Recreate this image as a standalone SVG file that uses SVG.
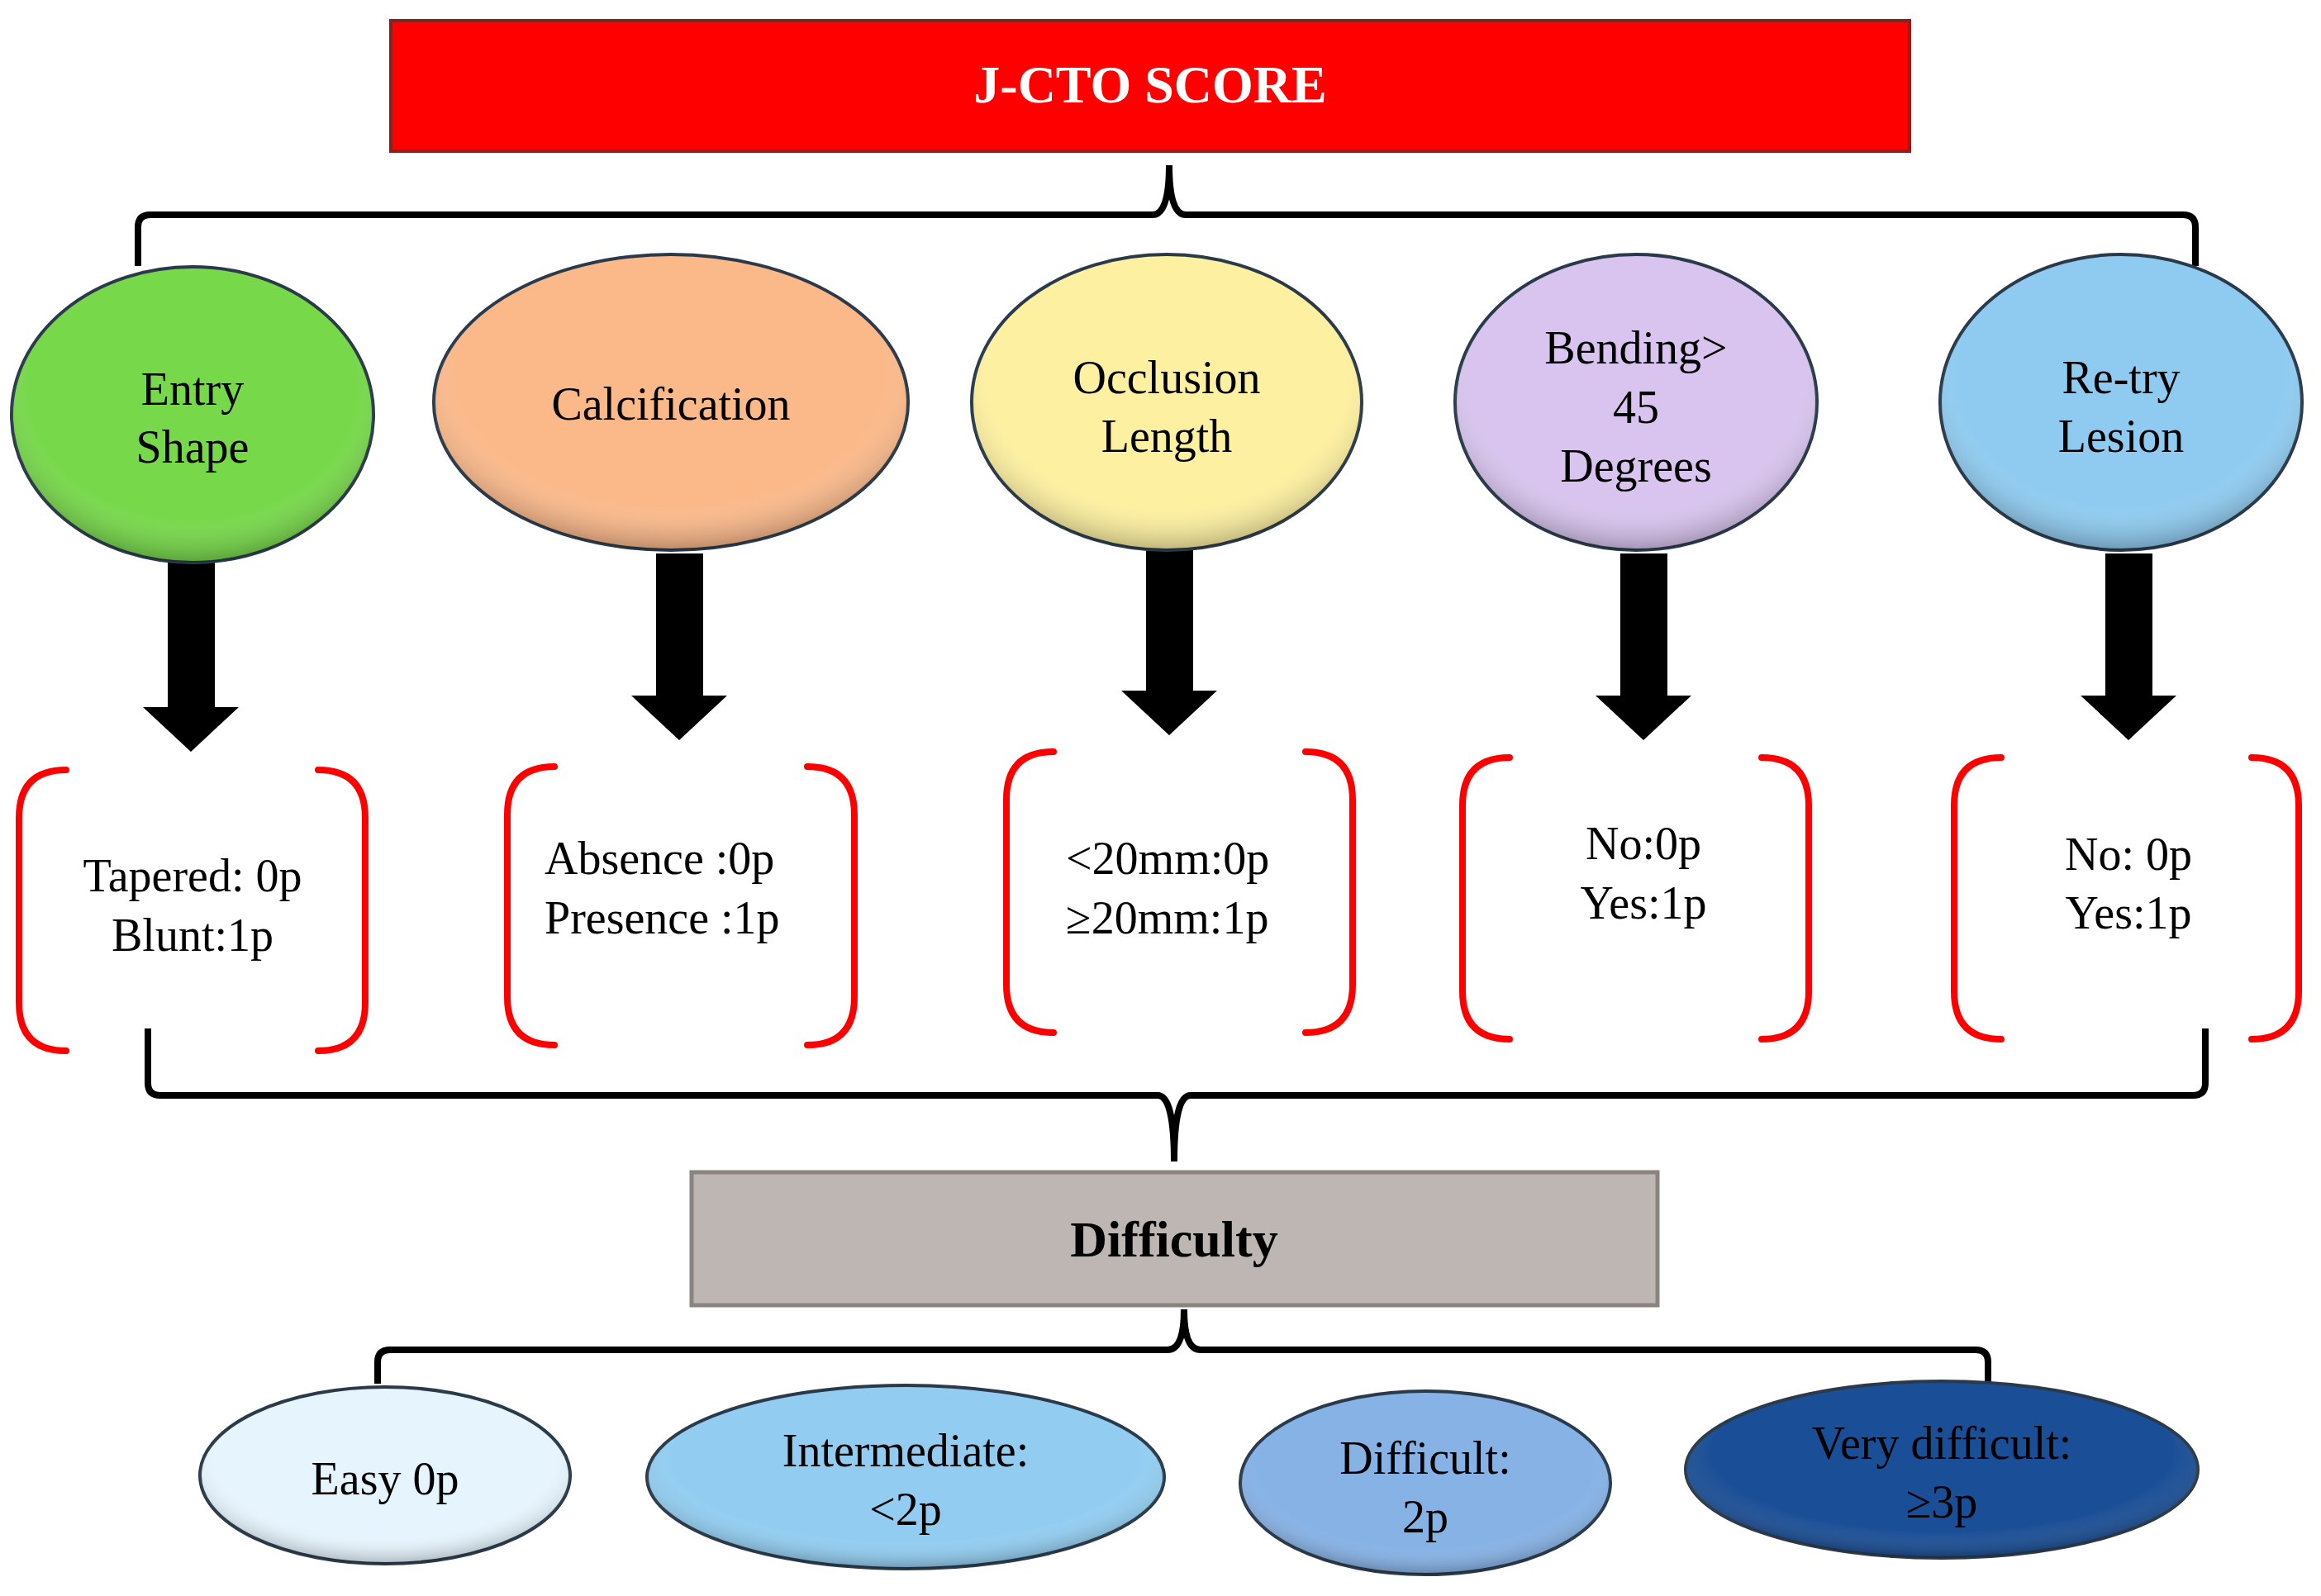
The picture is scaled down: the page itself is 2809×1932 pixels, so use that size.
<svg xmlns="http://www.w3.org/2000/svg" width="2809" height="1932" viewBox="0 0 2809 1932">
<defs>
<radialGradient id="sh" cx="0.5" cy="0.4" r="0.6"><stop offset="0.75" stop-color="#fff" stop-opacity="0"/><stop offset="1" stop-color="#000" stop-opacity="0.25"/></radialGradient>
</defs>
<style>
text{font-family:"Liberation Serif","Times New Roman",serif;font-size:56px;fill:#000;text-anchor:middle;dominant-baseline:central}
.ell{stroke:#2a3a4a;stroke-width:4}
.con{fill:none;stroke:#000;stroke-width:8}
.br{fill:none;stroke:#f00;stroke-width:8;stroke-linecap:round}
.ar{fill:#000}
.l{text-anchor:start}
</style>
<rect width="2809" height="1932" fill="#fff"/>
<g id="title"><rect x="473" y="25" width="1838" height="158" fill="#f00" stroke="#8a2020" stroke-width="4"/><text x="1392" y="102" style="font-size:64px;fill:#fff;font-weight:bold">J-CTO SCORE</text></g>
<g id="connectors">
<path class="con" d="M167 322 V275 Q167 260 182 260 H1395 Q1415 260 1415 200 Q1415 260 1435 260 H2642 Q2657 260 2657 275 V322"/>
<path class="con" d="M179 1245 V1311 Q179 1326 194 1326 H1401 Q1421 1326 1421 1406 Q1421 1326 1441 1326 H2654 Q2669 1326 2669 1311 V1245"/>
<path class="con" d="M457 1675 V1649 Q457 1634 472 1634 H1413 Q1433 1634 1433 1585 Q1433 1634 1453 1634 H2391 Q2406 1634 2406 1649 V1675"/>
<path class="ar" d="M203 680 h57 v176 h29 l-58 54 l-58 -54 h30z"/>
<path class="ar" d="M794 670 h57 v172 h29 l-58 54 l-58 -54 h30z"/>
<path class="ar" d="M1387 665 h57 v171 h29 l-58 54 l-58 -54 h30z"/>
<path class="ar" d="M1961 670 h57 v172 h29 l-58 54 l-58 -54 h30z"/>
<path class="ar" d="M2548 670 h57 v172 h29 l-58 54 l-58 -54 h30z"/>
</g>
<g id="entry"><ellipse class="ell" cx="233" cy="502" rx="219" ry="179" fill="#77d84a"/><ellipse cx="233" cy="502" rx="219" ry="179" fill="url(#sh)"/><text x="233" y="471">Entry</text><text x="233" y="541">Shape</text></g>
<g id="calc"><ellipse class="ell" cx="812" cy="487" rx="287" ry="179" fill="#fbb98a"/><ellipse cx="812" cy="487" rx="287" ry="179" fill="url(#sh)"/><text x="812" y="489">Calcification</text></g>
<g id="occl"><ellipse class="ell" cx="1412" cy="487" rx="236" ry="179" fill="#fdf0a0"/><ellipse cx="1412" cy="487" rx="236" ry="179" fill="url(#sh)"/><text x="1412" y="457">Occlusion</text><text x="1412" y="528">Length</text></g>
<g id="bend"><ellipse class="ell" cx="1980" cy="487" rx="219" ry="179" fill="#d8c4ee"/><ellipse cx="1980" cy="487" rx="219" ry="179" fill="url(#sh)"/><text x="1980" y="421">Bending&gt;</text><text x="1980" y="493">45</text><text x="1980" y="564">Degrees</text></g>
<g id="retry"><ellipse class="ell" cx="2567" cy="487" rx="219" ry="179" fill="#8fcbf0"/><ellipse cx="2567" cy="487" rx="219" ry="179" fill="url(#sh)"/><text x="2567" y="457">Re-try</text><text x="2567" y="528">Lesion</text></g>
<g id="b1"><path class="br" d="M80 932 Q23 932 23 990 V1214 Q23 1272 80 1272 M385 932 Q442 932 442 990 V1214 Q442 1272 385 1272"/><text x="233" y="1060">Tapered: 0p</text><text x="233" y="1132">Blunt:1p</text></g>
<g id="b2"><path class="br" d="M671 928 Q614 928 614 986 V1207 Q614 1265 671 1265 M977 928 Q1034 928 1034 986 V1207 Q1034 1265 977 1265"/><text class="l" x="659" y="1039">Absence :0p</text><text class="l" x="659" y="1111">Presence :1p</text></g>
<g id="b3"><path class="br" d="M1275 910 Q1218 910 1218 968 V1192 Q1218 1250 1275 1250 M1580 910 Q1637 910 1637 968 V1192 Q1637 1250 1580 1250"/><text class="l" x="1290" y="1039">&lt;20mm:0p</text><text class="l" x="1290" y="1111">≥20mm:1p</text></g>
<g id="b4"><path class="br" d="M1827 917 Q1770 917 1770 975 V1200 Q1770 1258 1827 1258 M2132 917 Q2189 917 2189 975 V1200 Q2189 1258 2132 1258"/><text x="1989" y="1021">No:0p</text><text x="1989" y="1093">Yes:1p</text></g>
<g id="b5"><path class="br" d="M2422 917 Q2365 917 2365 975 V1200 Q2365 1258 2422 1258 M2725 917 Q2782 917 2782 975 V1200 Q2782 1258 2725 1258"/><text x="2576" y="1034">No: 0p</text><text x="2576" y="1105">Yes:1p</text></g>
<g id="difficulty"><rect x="837" y="1419" width="1169" height="161" fill="#bdb6b3" stroke="#8a8480" stroke-width="5"/><text x="1421" y="1500" style="font-size:62px;font-weight:bold">Difficulty</text></g>
<g id="easy"><ellipse class="ell" cx="466" cy="1786" rx="224" ry="107" fill="#e6f4fd"/><ellipse cx="466" cy="1786" rx="224" ry="107" fill="url(#sh)"/><text x="466" y="1790">Easy 0p</text></g>
<g id="inter"><ellipse class="ell" cx="1096" cy="1788" rx="313" ry="111" fill="#92cdf1"/><ellipse cx="1096" cy="1788" rx="313" ry="111" fill="url(#sh)"/><text x="1096" y="1756">Intermediate:</text><text x="1096" y="1827">&lt;2p</text></g>
<g id="diff"><ellipse class="ell" cx="1725" cy="1795" rx="224" ry="111" fill="#86b2e6"/><ellipse cx="1725" cy="1795" rx="224" ry="111" fill="url(#sh)"/><text x="1725" y="1765">Difficult:</text><text x="1725" y="1836">2p</text></g>
<g id="vdiff"><ellipse class="ell" cx="2350" cy="1779" rx="310" ry="107" fill="#1a4e96"/><ellipse cx="2350" cy="1779" rx="310" ry="107" fill="url(#sh)"/><text x="2350" y="1747">Very difficult:</text><text x="2350" y="1818">≥3p</text></g>
</svg>
